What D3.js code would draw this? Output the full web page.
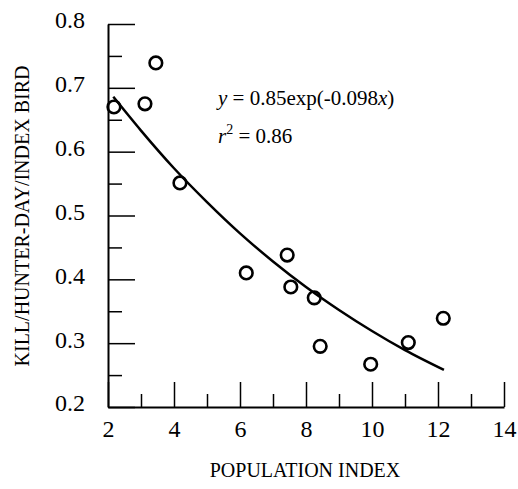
<!DOCTYPE html>
<html>
<head>
<meta charset="utf-8">
<script src="https://cdn.jsdelivr.net/npm/d3@7"></script>
<style>
  body { margin: 0; background: #fff; }
  svg { display: block; }
  svg text { font-family: 'Liberation Serif', 'DejaVu Serif', serif; }
  .axis path, .axis line { stroke: #000; }
</style>
</head>
<body>
<div id="chart"></div>
<script>
// observed points
const popIndex = [2.18, 3.12, 3.45, 4.18, 6.19, 7.43, 7.54, 8.25, 8.43, 9.96, 11.10, 12.16];
const killRate = [0.670, 0.675, 0.739, 0.551, 0.410, 0.438, 0.388, 0.371, 0.295, 0.267, 0.301, 0.339];

// fitted curve
const fitX = [2.16, 3, 4, 5, 6, 7, 8, 9, 10, 11, 12.18];
const fitY = [0.686, 0.633, 0.574, 0.521, 0.472, 0.428, 0.388, 0.352, 0.319, 0.289, 0.258];

const xTicks = [2, 4, 6, 8, 10, 12, 14];
const xMinor = [3, 5, 7, 9, 11, 13];
const yTicks = [0.2, 0.3, 0.4, 0.5, 0.6, 0.7, 0.8];
const yMinor = [0.25, 0.35, 0.45, 0.55, 0.65, 0.75];

const eqLine1 = "0.85exp(-0.098";
const eqLine2 = " = 0.86";

const FONT = "'Liberation Serif', 'DejaVu Serif', serif";

const width = 518, height = 489;
const margin = { top: 24, right: 14, bottom: 82, left: 108 };
const h = height - margin.top - margin.bottom;

const svg = d3.select('#chart')
  .append('svg')
  .attr('width', width)
  .attr('height', height);

const g = svg.append('g')
  .attr('transform', `translate(${margin.left},${margin.top})`);

const x = d3.scaleLinear().domain([2, 14]).range([0, 396]);
const y = d3.scaleLinear().domain([0.2, 0.8]).range([h, 0]);

// minor ticks first
g.append('g')
  .attr('class', 'axis')
  .attr('transform', `translate(0,${h})`)
  .call(d3.axisBottom(x).tickValues(xMinor).tickSize(-13).tickFormat(''))
  .call(s => s.select('.domain').remove())
  .selectAll('line').attr('stroke-width', 1.5);

g.append('g')
  .attr('class', 'axis')
  .call(d3.axisLeft(y).tickValues(yMinor).tickSize(-14).tickFormat(''))
  .call(s => s.select('.domain').remove())
  .selectAll('line').attr('stroke-width', 1.5);

// major ticks
const xAxis = g.append('g')
  .attr('class', 'axis')
  .attr('transform', `translate(0,${h})`)
  .call(d3.axisBottom(x).tickValues(xTicks).tickSizeInner(-25).tickSizeOuter(0).tickPadding(13).tickFormat(d3.format('d')))
  .attr('font-family', FONT)
  .attr('font-size', 24);
xAxis.select('.domain').attr('stroke-width', 2);
xAxis.selectAll('line').attr('stroke-width', 1.5);
xAxis.selectAll('text').attr('fill', '#000').style('font-family', FONT);

const yAxis = g.append('g')
  .attr('class', 'axis')
  .call(d3.axisLeft(y).tickValues(yTicks).tickSizeInner(-27).tickSizeOuter(0).tickPadding(23).tickFormat(d3.format('.1f')))
  .attr('font-family', FONT)
  .attr('font-size', 24);
yAxis.select('.domain').attr('stroke-width', 2);
yAxis.selectAll('line').attr('stroke-width', 1.5);
yAxis.selectAll('text').attr('fill', '#000').attr('dy', '0.16em').style('font-family', FONT);

// fitted curve
const line = d3.line()
  .x((d, i) => x(d))
  .y((d, i) => y(fitY[i]))
  .curve(d3.curveMonotoneX);

g.append('path')
  .datum(fitX)
  .attr('d', line)
  .attr('fill', 'none')
  .attr('stroke', '#000')
  .attr('stroke-width', 2.5);

// points
g.selectAll('circle')
  .data(popIndex)
  .enter()
  .append('circle')
  .attr('cx', d => x(d))
  .attr('cy', (d, i) => y(killRate[i]))
  .attr('r', 6.3)
  .attr('fill', 'none')
  .attr('stroke', '#000')
  .attr('stroke-width', 2.6);

// equation
const eq = svg.append('text')
  .attr('x', 218)
  .attr('y', 105)
  .attr('font-size', 21)
  .style('font-family', FONT);
eq.append('tspan').attr('font-style', 'italic').text('y');
eq.append('tspan').text(' = ' + eqLine1);
eq.append('tspan').attr('font-style', 'italic').text('x');
eq.append('tspan').text(')');

const r2 = svg.append('text')
  .attr('x', 218)
  .attr('y', 143)
  .attr('font-size', 21)
  .style('font-family', FONT);
r2.append('tspan').attr('font-style', 'italic').text('r');
r2.append('tspan').attr('font-size', 14).attr('dy', -9).text('2');
r2.append('tspan').attr('dy', 9).text(eqLine2);

// axis titles
svg.append('text')
  .attr('x', 305)
  .attr('y', 477)
  .attr('text-anchor', 'middle')
  .attr('font-size', 20)
  .style('font-family', FONT)
  .text('POPULATION INDEX');

svg.append('text')
  .attr('transform', 'translate(29,216) rotate(-90)')
  .attr('text-anchor', 'middle')
  .attr('font-size', 20)
  .style('font-family', FONT)
  .text('KILL/HUNTER-DAY/INDEX BIRD');
</script>
</body>
</html>
